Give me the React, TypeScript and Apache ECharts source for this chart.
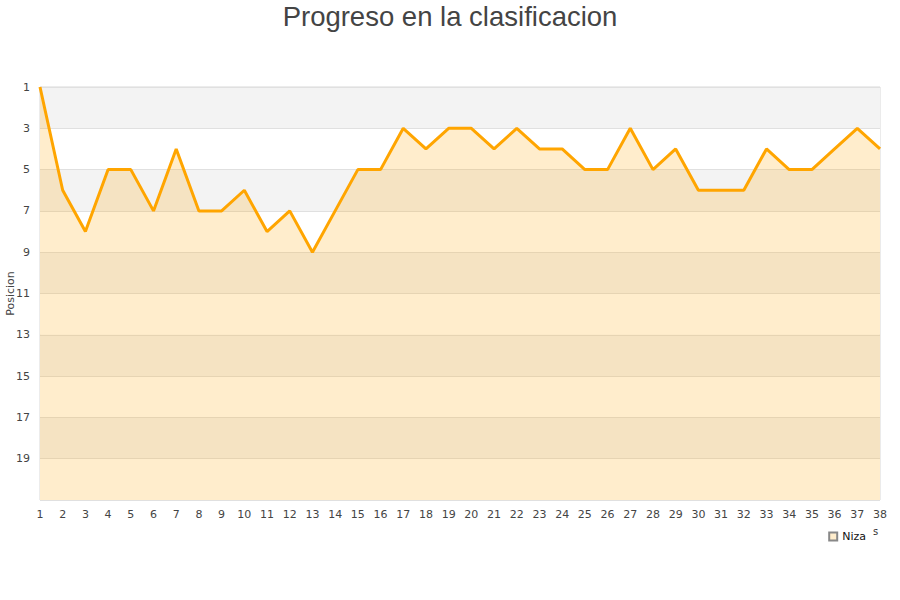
import React, { useEffect, useRef } from "react";
import * as echarts from "echarts";

const jornadas: string[] = Array.from({ length: 38 }, (_, i) => String(i + 1));
const posiciones: number[] = [
  1, 6, 8, 5, 5, 7, 4, 7, 7, 6, 8, 7, 9, 7, 5, 5, 3, 4, 3, 3, 4, 3, 4, 4, 5, 5,
  3, 5, 4, 6, 6, 6, 4, 5, 5, 4, 3, 4,
];
const equipo = "Niza";
const titulo = "Progreso en la clasificacion";
const ejeY = "Posicion";

export default function App() {
  const ref = useRef<HTMLDivElement>(null);
  useEffect(() => {
    document.body.style.margin = "0";
    const chart = echarts.init(ref.current!, null, { renderer: "svg" });
    chart.setOption({
      animation: false,
      backgroundColor: "#fff",
      title: {
        text: titulo,
        left: "center",
        top: -3,
        textStyle: {
          fontFamily: "Liberation Sans",
          fontSize: 27.5,
          fontWeight: "normal",
          color: "#444",
        },
      },
      grid: {
        left: 40,
        right: 20,
        top: 87,
        bottom: 100,
        outerBoundsMode: "none",
        containLabel: false,
        show: true,
        borderColor: "#d8d8d8",
        borderWidth: 1,
        backgroundColor: "transparent",
      },
      legend: {
        data: [equipo],
        right: 29,
        bottom: 53,
        icon: "rect",
        itemWidth: 8,
        itemHeight: 8,
        itemGap: 5,
        textStyle: {
          fontFamily: "DejaVu Sans",
          fontSize: 11,
          color: "#111",
        },
      },
      graphic: [
        {
          type: "text",
          left: 873,
          top: 526,
          style: { text: "s", fontFamily: "DejaVu Sans", fontSize: 10, fill: "#333" },
        },
      ],
      xAxis: {
        type: "category",
        data: jornadas,
        boundaryGap: false,
        axisLine: { show: false },
        axisTick: { show: false },
        axisLabel: {
          interval: 0,
          margin: 9,
          fontFamily: "DejaVu Sans",
          fontSize: 11,
          color: "#444",
        },
        splitLine: { show: false },
      },
      yAxis: {
        type: "value",
        inverse: true,
        min: 1,
        max: 21,
        interval: 2,
        name: ejeY,
        nameLocation: "middle",
        nameGap: 24,
        nameMoveOverlap: false,
        nameRotate: 90,
        nameTextStyle: { fontFamily: "DejaVu Sans", fontSize: 11, color: "#444" },
        axisLine: { show: false },
        axisTick: { show: false },
        axisLabel: {
          margin: 10,
          fontFamily: "DejaVu Sans",
          fontSize: 11,
          color: "#444",
          formatter: (v: number) => (v === 21 ? "" : String(v)),
        },
        splitLine: { show: true, lineStyle: { color: "#e0e0e0", width: 1 } },
        splitArea: { show: true, areaStyle: { color: ["#f3f3f3", "#ffffff"] } },
      },
      series: [
        {
          name: equipo,
          type: "line",
          data: posiciones,
          symbol: "none",
          lineStyle: { color: "#ffa500", width: 3 },
          itemStyle: { color: "#ffedcc", borderColor: "#888", borderWidth: 1 },
          areaStyle: { color: "rgba(255,165,0,0.2)", opacity: 1, origin: "end" },
        },
      ],
    });
    return () => chart.dispose();
  }, []);
  return <div ref={ref} style={{ width: 900, height: 600 }} />;
}
